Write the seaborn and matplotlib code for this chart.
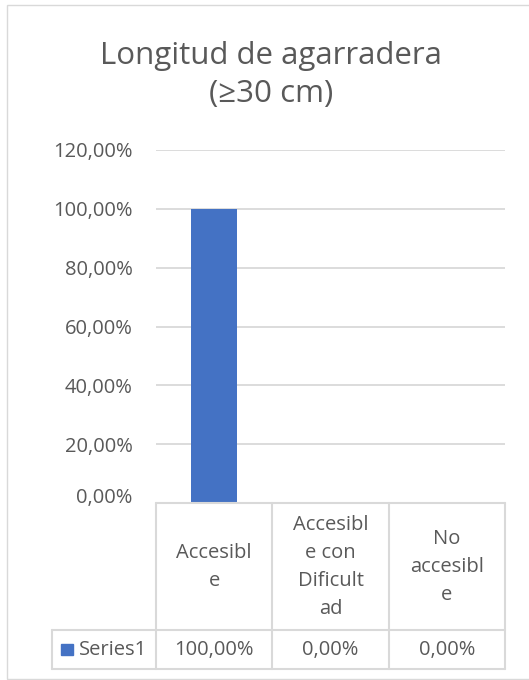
import matplotlib
matplotlib.use('Agg')
import matplotlib.pyplot as plt
from matplotlib.lines import Line2D
from matplotlib.patches import Rectangle
from matplotlib.ticker import FuncFormatter
from matplotlib.transforms import ScaledTranslation
import seaborn as sns
import pandas as pd

# Datos
categorias = ['Accesible', 'Accesible con Dificultad', 'No accesible']
etiquetas_tabla = ['Accesibl\ne', 'Accesibl\ne con\nDificult\nad', 'No\naccesibl\ne']
valores = [1.0, 0.0, 0.0]
serie = 'Series1'
titulo = 'Longitud de agarradera\n(≥30 cm)'
yticks = [0, 0.2, 0.4, 0.6, 0.8, 1.0, 1.2]

azul = '#4472C4'
gris = '#D9D9D9'
texto = '#595959'
fs = 14.5

sns.set_theme(style='white')
plt.rcParams['font.family'] = ['Open Sans', 'DejaVu Sans']

W, H = 529, 680
fig = plt.figure(figsize=(W / 100, H / 100), dpi=100)


def fx(px):
    return px / W


def fy(py):
    return 1 - py / H


def pct(v):
    return f'{v * 100:.2f}%'.replace('.', ',')


ax = fig.add_axes([fx(156), fy(503), fx(505) - fx(156), fy(150) - fy(503)])
df = pd.DataFrame({'categoria': categorias, 'valor': valores})
sns.barplot(data=df, x='categoria', y='valor', color=azul, width=0.4,
            saturation=1, linewidth=0, ax=ax)

ax.set_xlim(-0.5, 2.5)
ax.set_ylim(0, 1.2)
ax.set_yticks(yticks)
ax.yaxis.set_major_formatter(FuncFormatter(lambda v, _: pct(v)))
ax.set_xticks([])
ax.set_xlabel('')
ax.set_ylabel('')
for s in ax.spines.values():
    s.set_visible(False)
ax.grid(axis='y', color=gris, lw=1.3)
ax.set_axisbelow(True)
ax.tick_params(axis='y', length=0, pad=17, labelsize=fs, labelcolor=texto)

# la etiqueta 0,00% va un poco mas arriba (como en Excel con tabla)
fig.canvas.draw()
lbl0 = ax.yaxis.get_major_ticks()[0].label1
lbl0.set_transform(lbl0.get_transform() + ScaledTranslation(0, 8 / 100, fig.dpi_scale_trans))

# Tabla de datos
inv = fig.transFigure.inverted()
bordes = []
for i in range(len(categorias) + 1):
    xp = ax.transData.transform((i - 0.5, 0))[0]
    bordes.append(inv.transform((xp, 0))[0])
centros = [(bordes[i] + bordes[i + 1]) / 2 for i in range(len(categorias))]


def linea(x0, y0, x1, y1):
    fig.add_artist(Line2D([x0, x1], [y0, y1], transform=fig.transFigure,
                          color=gris, lw=1.5))


y_top, y_mid, y_bot = fy(503), fy(630), fy(669)
x_leg = fx(52)
linea(bordes[0], y_top, bordes[-1], y_top)
linea(x_leg, y_mid, bordes[-1], y_mid)
linea(x_leg, y_bot, bordes[-1], y_bot)
linea(x_leg, y_mid, x_leg, y_bot)
for b in bordes:
    linea(b, y_top, b, y_bot)

for c, lab in zip(centros, etiquetas_tabla):
    fig.text(c, fy(567), lab, ha='center', va='center', fontsize=fs,
             color=texto, linespacing=1.53)

for c, v in zip(centros, valores):
    fig.text(c, fy(650), pct(v), ha='center', va='center', fontsize=fs, color=texto)

fig.add_artist(Rectangle((fx(61), fy(655)), fx(12), fy(644) - fy(655),
                         transform=fig.transFigure, color=azul))
fig.text(fx(79), fy(650), serie, ha='left', va='center', fontsize=fs, color=texto)

# Titulo
fig.text(fx(271), fy(75), titulo, ha='center', va='center', fontsize=22.5,
         color=texto, linespacing=1.39)

# Marco
fig.add_artist(Rectangle((fx(7), fy(679)), fx(540), fy(5) - fy(679),
                         transform=fig.transFigure, fill=False, edgecolor=gris, lw=1))

fig.savefig('out.png', dpi=100)
